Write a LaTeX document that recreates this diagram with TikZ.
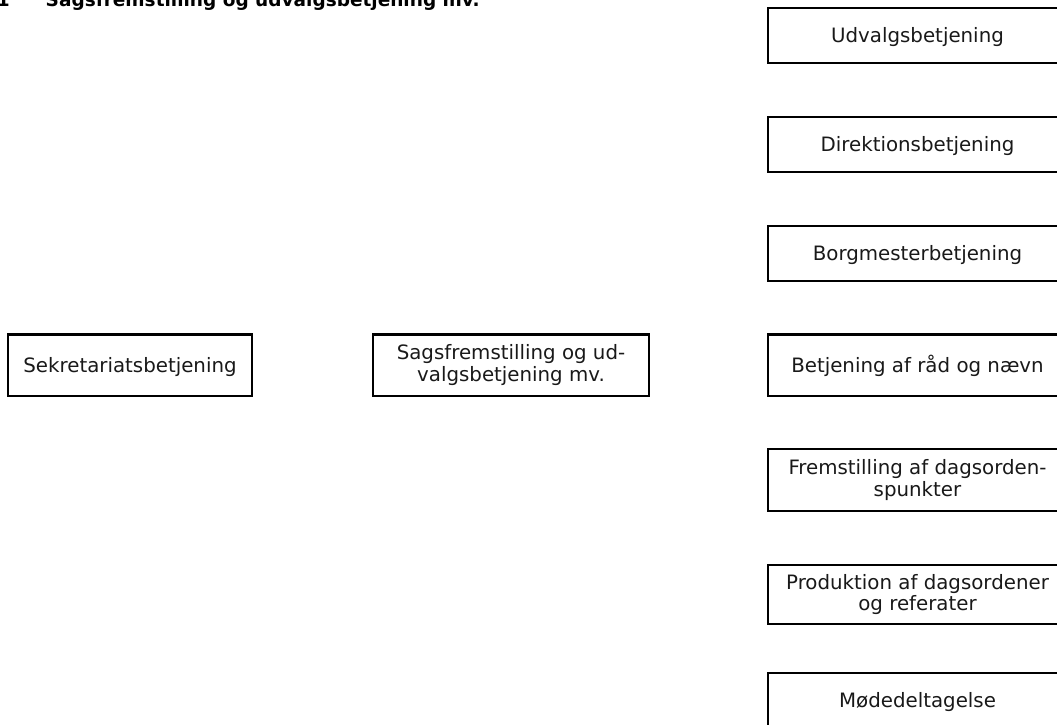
\documentclass[tikz,border=0pt]{standalone}
\usepackage{fontspec}
\setmainfont{DejaVu Sans}
\begin{document}
\begin{tikzpicture}[x=1pt,y=-1pt,
  box/.style={draw=black, line width=2.2pt, rectangle, inner sep=0pt,
    align=center, font=\fontsize{19.8}{21.8}\selectfont, text=black!90},
  oneline/.style={text height=16pt, text depth=2pt},
  rbox/.style={box, minimum width=299pt},
  heading/.style={inner sep=0pt, font=\fontsize{18.5}{22}\selectfont\bfseries}]
\useasboundingbox (0,0) rectangle (1057,725);
\clip (0,0) rectangle (1057,725);

% section heading, running off the top edge
\node[heading, anchor=base east] (num) at (10,6.5) {1.1};
\node[heading, anchor=base west] (title) at (45.5,6.5) {Sagsfremstilling og udvalgsbetjening mv.};

% left and middle boxes
\node[box, oneline, minimum width=244pt, minimum height=61.5pt] (sekr) at (130,365.25) {Sekretariatsbetjening};
\node[box, minimum width=276pt, minimum height=61.5pt] (sags) at (511,365.25) {Sagsfremstilling og ud-\\valgsbetjening mv.};

% right column of tasks
\node[rbox, oneline, minimum height=55pt] (udv)  at (917.5,35.5)   {Udvalgsbetjening};
\node[rbox, oneline, minimum height=55pt] (dir)  at (917.5,144.5)  {Direktionsbetjening};
\node[rbox, oneline, minimum height=55pt] (borg) at (917.5,253.5)  {Borgmesterbetjening};
\node[rbox, oneline, minimum height=61.5pt] (raad) at (917.5,365.25) {Betjening af råd og nævn};
\node[rbox, minimum height=61.5pt] (frem) at (917.5,480)  {Fremstilling af dagsorden-\\spunkter};
\node[rbox, minimum height=59pt] (prod) at (917.5,594.5)  {Produktion af dagsordener\\og referater};
\node[rbox, oneline, minimum height=55pt] (mode) at (917.5,700.5)  {Mødedeltagelse};
\end{tikzpicture}
\end{document}
